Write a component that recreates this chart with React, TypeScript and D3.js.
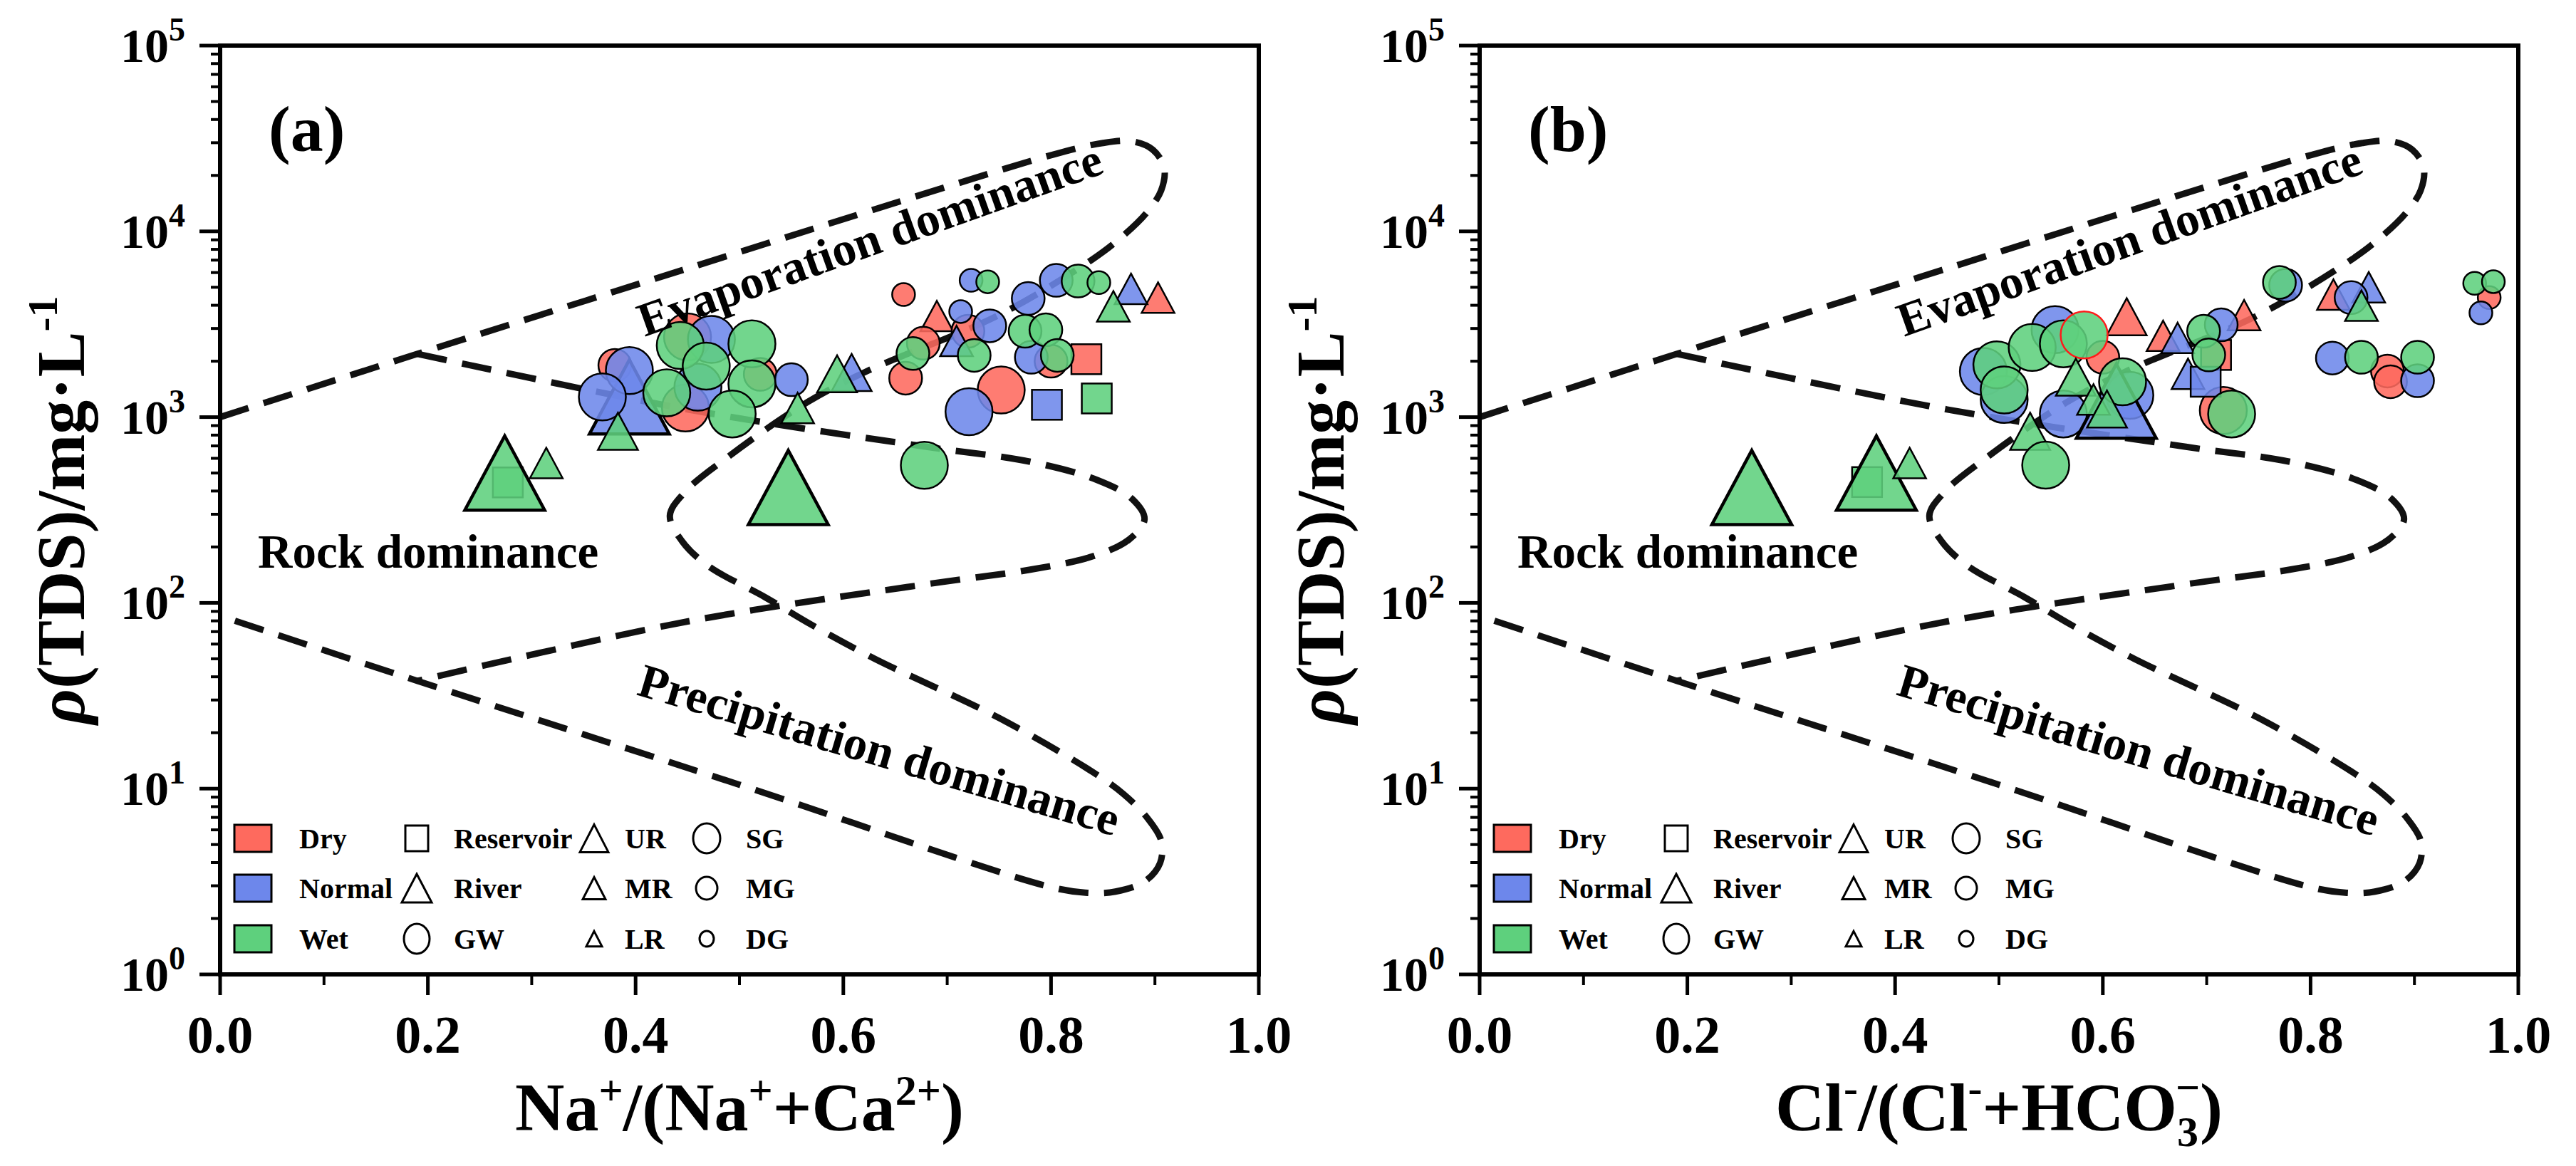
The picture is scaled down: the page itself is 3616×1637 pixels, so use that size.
import React from 'react';
import * as d3 from 'd3';

// ---------- layout ----------
const W = 3616;
const H = 1637;
const PANEL_LEFTS = [309, 2077];
const PANEL_TOP = 64;
const PW = 1458;
const PH = 1304;
const FONT = '"Liberation Serif", "Times New Roman", Times, serif';

// ---------- data ----------
type Marker = 'T1' | 'T2' | 'T3' | 'C1' | 'C2' | 'C3' | 'S';
type Pt = [number, number, Marker, string?];

const seasonNames = ['Dry', 'Normal', 'Wet'];
const seasonColors = ['#FE6A5E', '#6D87EB', '#5ED07D'];

const xTicks = [0, 0.2, 0.4, 0.6, 0.8, 1.0];
const xMinorTicks = [0.1, 0.3, 0.5, 0.7, 0.9];
const yTicks = [1, 10, 100, 1000, 10000, 100000];
const yExponents = ['0', '1', '2', '3', '4', '5'];

// Gibbs boundary: outer boomerang (top arm, evaporation tip, waist, precipitation tip, lower arm)
const outerBoundary: [number, number][] = [
  [0, 1000], [0.19, 2190], [0.45, 6310], [0.70, 17400], [0.80, 25700], [0.85, 29900],
  [0.878, 30500], [0.898, 27500], [0.909, 21900], [0.906, 16600], [0.892, 12600],
  [0.868, 9330], [0.84, 7080], [0.75, 3550], [0.624, 1780], [0.565, 1200], [0.49, 617],
  [0.448, 398], [0.433, 295], [0.445, 214], [0.47, 158], [0.525, 107], [0.57, 75.9],
  [0.63, 50.1], [0.75, 24.0], [0.84, 12.3], [0.87, 9.33], [0.893, 6.92], [0.906, 5.25],
  [0.905, 3.98], [0.89, 3.16], [0.862, 2.79], [0.835, 2.75], [0.80, 2.95], [0.5, 10.5],
  [0.19, 38.0], [0, 85.1],
];
// inner boundary (rock-dominance divider)
const innerBoundary: [number, number][] = [
  [0.19, 2190], [0.45, 1100], [0.68, 692], [0.78, 575], [0.845, 457], [0.878, 363],
  [0.89, 282], [0.875, 219], [0.84, 178], [0.78, 151], [0.68, 126], [0.45, 79.4], [0.19, 38.0],
];

// panel (a): Na+/(Na+ + Ca2+)
const aDry: Pt[] = [
  [0.658, 4570, 'C3'], [0.690, 3500, 'T3'], [0.903, 4400, 'T3'], [0.72, 2900, 'C2'],
  [0.80, 2000, 'C2'], [0.677, 2500, 'C2'], [0.660, 1620, 'C2'], [0.752, 1400, 'C1'],
  [0.834, 2050, 'S'], [0.38, 1900, 'C2'], [0.448, 1120, 'C1'], [0.45, 2700, 'C1'], [0.52, 1700, 'C2'],
];
const aNormal: Pt[] = [
  [0.723, 5450, 'C3'], [0.805, 5450, 'C2'], [0.877, 4900, 'T3'], [0.778, 4350, 'C2'],
  [0.713, 3700, 'C3'], [0.741, 3100, 'C2'], [0.781, 2100, 'C2'], [0.709, 2570, 'T3'],
  [0.721, 1070, 'C1'], [0.796, 1165, 'S'], [0.394, 1285, 'T1'], [0.394, 1780, 'C1'],
  [0.368, 1285, 'C1'], [0.473, 2620, 'C1'], [0.46, 1450, 'C1'], [0.550, 1590, 'C2'], [0.608, 1740, 'T2'],
];
const aWet: Pt[] = [
  [0.739, 5350, 'C3'], [0.826, 5400, 'C2'], [0.846, 5300, 'C3'], [0.860, 3950, 'T3'],
  [0.775, 2900, 'C2'], [0.795, 2950, 'C2'], [0.806, 2150, 'C2'], [0.667, 2200, 'C2'],
  [0.726, 2150, 'C2'], [0.844, 1260, 'S'], [0.678, 550, 'C1'], [0.383, 840, 'T2'],
  [0.430, 1350, 'C1'], [0.443, 2430, 'C1'], [0.468, 1880, 'C1'], [0.512, 2480, 'C1'],
  [0.512, 1510, 'C1'], [0.493, 1040, 'C1'], [0.594, 1710, 'T2'], [0.556, 1120, 'T3'],
  [0.277, 445, 'S'], [0.274, 500, 'T1'], [0.314, 566, 'T3'], [0.547, 418, 'T1'],
];

// panel (b): Cl-/(Cl- + HCO3-)
const bDry: Pt[] = [
  [0.623, 3470, 'T2'], [0.60, 2100, 'C2'], [0.658, 2740, 'T3'], [0.709, 2160, 'S'],
  [0.736, 3540, 'T3'], [0.716, 1085, 'C1'], [0.822, 4570, 'T3'], [0.972, 4400, 'C3'],
  [0.874, 1770, 'C2'], [0.877, 1550, 'C2'],
];
const bNormal: Pt[] = [
  [0.485, 1760, 'C1'], [0.505, 1245, 'C1'], [0.554, 2960, 'C1'], [0.562, 1040, 'C1'],
  [0.626, 1310, 'C1'], [0.613, 1220, 'T1'], [0.672, 2670, 'T3'], [0.714, 3140, 'C2'],
  [0.682, 1710, 'T3'], [0.699, 1550, 'S'], [0.776, 5130, 'C2'], [0.856, 5000, 'T3'],
  [0.839, 4400, 'C2'], [0.964, 3640, 'C3'], [0.821, 2080, 'C2'], [0.903, 1570, 'C2'],
];
const bWet: Pt[] = [
  [0.373, 447, 'S'], [0.262, 418, 'T1'], [0.382, 500, 'T1'], [0.414, 566, 'T3'],
  [0.530, 840, 'T2'], [0.545, 551, 'C1'], [0.498, 1910, 'C1'], [0.505, 1400, 'C1'],
  [0.532, 2370, 'C1'], [0.562, 2480, 'C1'], [0.582, 2770, 'C1', 'red'], [0.619, 1550, 'C1'],
  [0.574, 1640, 'T2'], [0.591, 1245, 'T3'], [0.604, 1105, 'T2'], [0.697, 2900, 'C2'],
  [0.702, 2160, 'C2'], [0.724, 1040, 'C1'], [0.770, 5310, 'C2'], [0.849, 3980, 'T3'],
  [0.958, 5250, 'C3'], [0.976, 5360, 'C3'], [0.849, 2100, 'C2'], [0.903, 2100, 'C2'],
];

const typeLegend = ['Reservoir', 'River', 'GW'];
const riverLegend = ['UR', 'MR', 'LR'];
const gwLegend = ['SG', 'MG', 'DG'];

// ---------- marker geometry ----------
const markerSize: Record<Marker, number> = { T1: 112, T2: 56, T3: 46, C1: 66, C2: 46, C3: 32, S: 42 };

function triPath(w: number, h: number) {
  return `M0,${-h / 2}L${w / 2},${h / 2}L${-w / 2},${h / 2}Z`;
}

function MarkerShape({ m, fill, stroke, sw, opacity }: { m: Marker; fill: string; stroke: string; sw: number; opacity: number }) {
  const s = markerSize[m];
  if (m[0] === 'T') {
    return <path d={triPath(s, s * 0.93)} fill={fill} fillOpacity={opacity} stroke={stroke} strokeWidth={m === 'T1' ? 4.5 : sw} strokeLinejoin="miter" />;
  }
  if (m === 'S') {
    return <rect x={-s / 2} y={-s / 2} width={s} height={s} fill={fill} fillOpacity={opacity} stroke={stroke} strokeWidth={sw} />;
  }
  return <circle r={s / 2} fill={fill} fillOpacity={opacity} stroke={stroke} strokeWidth={sw} />;
}

const xScale = d3.scaleLinear().domain([0, 1]).range([0, PW]);
const yScale = d3.scaleLog().domain([1, 1e5]).range([PH, 0]);

const boundaryLine = d3
  .line<[number, number]>()
  .x((d) => xScale(d[0]))
  .y((d) => yScale(d[1]))
  .curve(d3.curveCatmullRom.alpha(0.5));

function Legend() {
  const rows = [1113, 1183, 1254]; // row centres relative to panel top
  return (
    <g>
      {seasonNames.map((n, i) => (
        <g key={n}>
          <rect x={20} y={rows[i] - 19} width={52} height={38} fill={seasonColors[i]} stroke="#000" strokeWidth={3} />
          <text x={111} y={rows[i] + 14} fontSize={40} fontWeight="bold" fontFamily={FONT}>{n}</text>
        </g>
      ))}
      {/* type column */}
      <rect x={276 - 16} y={rows[0] - 18} width={32} height={36} fill="none" stroke="#000" strokeWidth={3} />
      <path d={triPath(42, 40)} transform={`translate(276,${rows[1]})`} fill="none" stroke="#000" strokeWidth={3} />
      <ellipse cx={276} cy={rows[2]} rx={18} ry={21} fill="none" stroke="#000" strokeWidth={3} />
      {typeLegend.map((n, i) => (
        <text key={n} x={328} y={rows[i] + 14} fontSize={40} fontWeight="bold" fontFamily={FONT}>{n}</text>
      ))}
      {/* river sizes */}
      {[40, 32, 22].map((s, i) => (
        <path key={i} d={triPath(s, s * 0.97)} transform={`translate(525,${rows[i]})`} fill="none" stroke="#000" strokeWidth={3} />
      ))}
      {riverLegend.map((n, i) => (
        <text key={n} x={568} y={rows[i] + 14} fontSize={40} fontWeight="bold" fontFamily={FONT}>{n}</text>
      ))}
      {/* groundwater sizes */}
      {[[19, 21], [15, 16], [10, 11]].map((r, i) => (
        <ellipse key={i} cx={683} cy={rows[i]} rx={r[0]} ry={r[1]} fill="none" stroke="#000" strokeWidth={3} />
      ))}
      {gwLegend.map((n, i) => (
        <text key={n} x={738} y={rows[i] + 14} fontSize={40} fontWeight="bold" fontFamily={FONT}>{n}</text>
      ))}
    </g>
  );
}

function Panel({ left, label, series, xTitle }: { left: number; label: string; series: Pt[][]; xTitle: React.ReactNode }) {
  return (
    <g transform={`translate(${left},${PANEL_TOP})`}>
      {/* boundaries */}
      <path d={boundaryLine(outerBoundary) || ''} fill="none" stroke="#111" strokeWidth={9} strokeDasharray="42 22" />
      <path d={boundaryLine(innerBoundary) || ''} fill="none" stroke="#111" strokeWidth={9} strokeDasharray="42 22" />

      {/* points */}
      {series.map((pts, si) => (
        <g key={si}>
          {pts.map((p, i) => (
            <g key={i} transform={`translate(${xScale(p[0])},${yScale(p[1])})`}>
              <MarkerShape m={p[2]} fill={seasonColors[si]} stroke={p[3] === 'red' ? '#FF1A1A' : '#000'} sw={2.5} opacity={0.88} />
            </g>
          ))}
        </g>
      ))}

      {/* region labels */}
      <text x={596} y={409} transform={`rotate(-19.6 596 409)`} fontSize={67} fontWeight="bold" fontFamily={FONT}>Evaporation dominance</text>
      <text x={53} y={733} fontSize={67} fontWeight="bold" fontFamily={FONT}>Rock dominance</text>
      <text x={583} y={911} transform={`rotate(16.5 583 911)`} fontSize={67} fontWeight="bold" fontFamily={FONT}>Precipitation dominance</text>
      <text x={68} y={148} fontSize={92} fontWeight="bold" fontFamily={FONT}>{label}</text>

      <Legend />

      {/* frame */}
      <rect x={0} y={0} width={PW} height={PH} fill="none" stroke="#000" strokeWidth={6} />

      {/* y ticks */}
      {yTicks.map((t) => (
        <line key={t} x1={-29} x2={0} y1={yScale(t)} y2={yScale(t)} stroke="#000" strokeWidth={5} />
      ))}
      {yTicks.slice(0, -1).flatMap((t) =>
        d3.range(2, 10).map((k) => (
          <line key={`${t}-${k}`} x1={-13} x2={0} y1={yScale(t * k)} y2={yScale(t * k)} stroke="#000" strokeWidth={4} />
        ))
      )}
      {yTicks.map((t, i) => (
        <text key={`l${t}`} x={-49} y={yScale(t) + 23} textAnchor="end" fontSize={68} fontWeight="bold" fontFamily={FONT}>
          10<tspan dy={-30} fontSize={46}>{yExponents[i]}</tspan>
        </text>
      ))}

      {/* x ticks */}
      {xTicks.map((t) => (
        <line key={t} x1={xScale(t)} x2={xScale(t)} y1={PH} y2={PH + 29} stroke="#000" strokeWidth={5} />
      ))}
      {xMinorTicks.map((t) => (
        <line key={t} x1={xScale(t)} x2={xScale(t)} y1={PH} y2={PH + 15} stroke="#000" strokeWidth={4} />
      ))}
      {xTicks.map((t) => (
        <text key={`x${t}`} x={xScale(t)} y={1478 - PANEL_TOP} textAnchor="middle" fontSize={74} fontWeight="bold" fontFamily={FONT}>
          {d3.format('.1f')(t)}
        </text>
      ))}

      {/* axis titles */}
      <text x={PW / 2} y={1587 - PANEL_TOP} textAnchor="middle" fontSize={96} fontWeight="bold" fontFamily={FONT}>
        {xTitle}
      </text>
      <text transform={`translate(${118 - 309},${716 - PANEL_TOP}) rotate(-90)`} textAnchor="middle" fontSize={96} fontWeight="bold" fontFamily={FONT}>
        <tspan fontStyle="italic">ρ</tspan>(TDS)/mg·L<tspan dy={-38} fontSize={60}>-1</tspan>
      </text>
    </g>
  );
}

export default function App() {
  const titleA = (
    <>
      Na<tspan dy={-36} fontSize={60}>+</tspan>
      <tspan dy={36}>/(Na</tspan>
      <tspan dy={-36} fontSize={60}>+</tspan>
      <tspan dy={36}>+Ca</tspan>
      <tspan dy={-36} fontSize={60}>2+</tspan>
      <tspan dy={36}>)</tspan>
    </>
  );
  const titleB = (
    <>
      Cl<tspan dy={-40} fontSize={60}>-</tspan>
      <tspan dy={40}>/(Cl</tspan>
      <tspan dy={-40} fontSize={60}>-</tspan>
      <tspan dy={40}>+HCO</tspan>
      <tspan dy={22} fontSize={60}>3</tspan>
      <tspan dx={-32} dy={-62} fontSize={60}>−</tspan>
      <tspan dy={40}>)</tspan>
    </>
  );
  return (
    <svg width={W} height={H} style={{ position: 'absolute', left: 0, top: 0, background: '#fff' }} xmlns="http://www.w3.org/2000/svg">
      <rect width={W} height={H} fill="#fff" />
      <Panel left={PANEL_LEFTS[0]} label="(a)" series={[aDry, aNormal, aWet]} xTitle={titleA} />
      <Panel left={PANEL_LEFTS[1]} label="(b)" series={[bDry, bNormal, bWet]} xTitle={titleB} />
    </svg>
  );
}
